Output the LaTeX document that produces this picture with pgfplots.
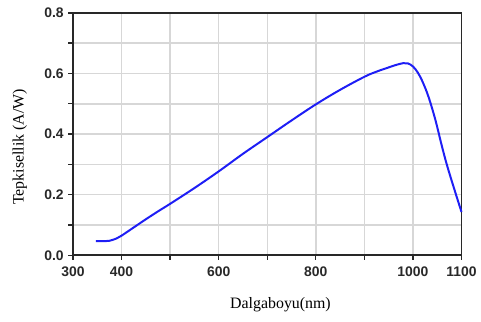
\documentclass[border=0pt]{standalone}
\usepackage{fontspec}
\setmainfont{Liberation Serif}
\newfontfamily\tickfont{Liberation Sans}
\usepackage{pgfplots}
\pgfplotsset{compat=1.18}
\definecolor{axiscol}{RGB}{40,40,40}
\definecolor{gridcol}{RGB}{215,215,215}
\definecolor{curvecol}{RGB}{30,30,245}
\begin{document}
\begin{tikzpicture}
\begin{axis}[
  scale only axis,
  width=293.5pt, height=183.2pt,
  xmin=300, xmax=1100, ymin=0, ymax=0.8,
  xtick={300,400,...,1100},
  xticklabels={300,400,,600,,800,,1000,1100},
  ytick={0,0.1,...,0.8},
  yticklabels={0.0,,0.2,,0.4,,0.6,,0.8},
  xtick pos=bottom, ytick pos=left,
  ticklabel style={font=\tickfont\bfseries\fontsize{10.5}{12}\selectfont, text=axiscol},
  xticklabel style={yshift=-2pt},
  grid=major,
  major grid style={gridcol, line width=1.1pt},
  axis line style={axiscol, line width=1.4pt},
  tick style={axiscol, line width=1pt},
  tick align=outside,
  major tick length=3.5pt,
  clip=false,
]
\addplot[curvecol, line width=1.5pt, smooth, tension=0.6] coordinates {
(347,0.047) (360,0.047) (375,0.048) (390,0.056) (400,0.065) (425,0.092)
(450,0.119) (475,0.145) (500,0.170) (550,0.222) (600,0.277) (650,0.335)
(700,0.390) (750,0.445) (800,0.498) (850,0.546) (900,0.589) (925,0.606)
(950,0.620) (965,0.628) (980,0.634) (990,0.633) (1000,0.623) (1010,0.603)
(1020,0.572) (1032,0.523) (1046,0.448) (1059,0.364) (1070,0.298)
(1085,0.219) (1100,0.143)
};
\node[anchor=base, font=\fontsize{12}{14}\selectfont] at (rel axis cs:0.534,-0.219) {Dalgaboyu(nm)};
\node[rotate=90, font=\fontsize{12}{14}\selectfont] at (rel axis cs:-0.137,0.447) {Tepkisellik (A/W)};
\path (rel axis cs:-0.188,-0.273) rectangle (rel axis cs:1.041,1.053);
\end{axis}
\end{tikzpicture}
\end{document}
